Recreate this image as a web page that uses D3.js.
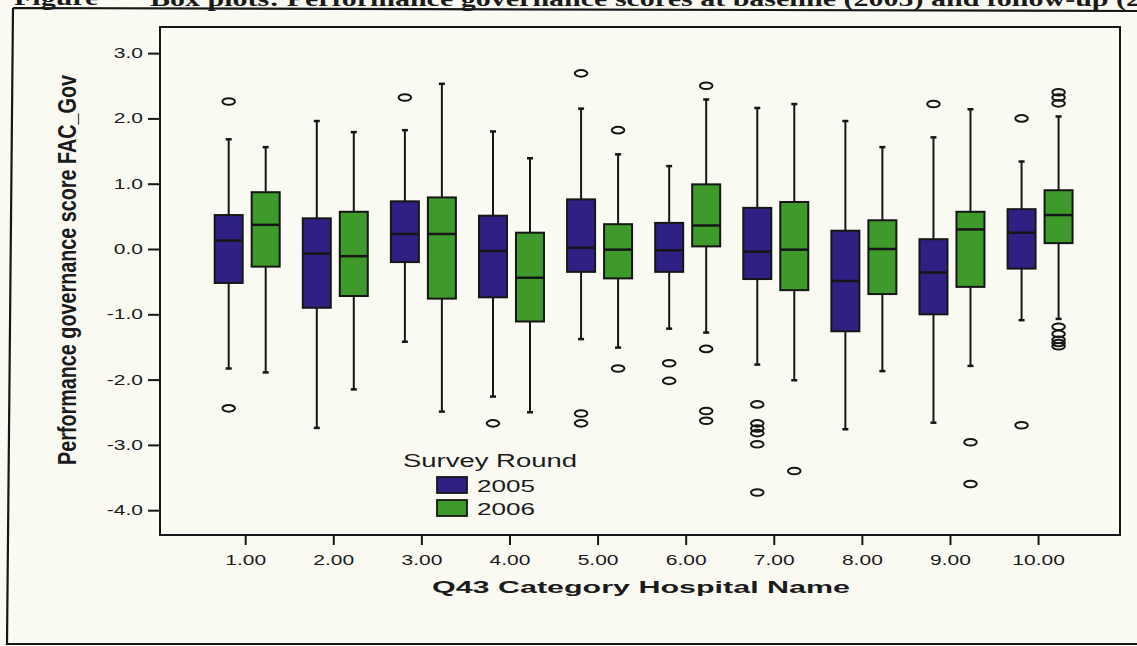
<!DOCTYPE html>
<html><head><meta charset="utf-8">
<script src="https://cdn.jsdelivr.net/npm/d3@7"></script>
<style>
html,body{margin:0;padding:0;background:#fafaf3;}
svg{display:block;}
text{font-family:"Liberation Sans",Arial,sans-serif;fill:#1b1b1b;}
</style></head>
<body>
<svg id="chart" width="1137" height="646"></svg>
<script>
// ---- data ----
const categories = [1,2,3,4,5,6,7,8,9,10];
const tickLabelsX = ["1.00","2.00","3.00","4.00","5.00","6.00","7.00","8.00","9.00","10.00"];
const tickValuesY = [-4,-3,-2,-1,0,1,2,3];
const seriesNames = ["2005","2006"];

// 2005
const lo2005  = [-1.83,-2.74,-1.42,-2.26,-1.38,-1.22,-1.77,-2.76,-2.66,-1.09];
const q1_2005 = [-0.52,-0.90,-0.20,-0.74,-0.35,-0.35,-0.46,-1.26,-1.00,-0.30];
const med2005 = [ 0.13,-0.07, 0.23,-0.03, 0.02,-0.02,-0.04,-0.49,-0.36, 0.25];
const q3_2005 = [ 0.52, 0.47, 0.73, 0.51, 0.76, 0.40, 0.63, 0.28, 0.15, 0.61];
const hi2005  = [ 1.68, 1.96, 1.82, 1.80, 2.15, 1.27, 2.16, 1.96, 1.71, 1.34];
const out2005 = [[2.26,-2.44],[],[2.32],[-2.67],[2.69,-2.52,-2.67],[-1.75,-2.02],
                 [-2.38,-2.67,-2.75,-2.82,-2.99,-3.73],[],[2.22],[2.00,-2.70]];
// 2006
const lo2006  = [-1.89,-2.15,-2.49,-2.50,-1.51,-1.28,-2.01,-1.87,-1.79,-1.07];
const q1_2006 = [-0.27,-0.72,-0.76,-1.11,-0.45, 0.04,-0.63,-0.69,-0.58, 0.09];
const med2006 = [ 0.37,-0.11, 0.23,-0.44,-0.01, 0.36,-0.01, 0.00, 0.30, 0.52];
const q3_2006 = [ 0.87, 0.57, 0.79, 0.25, 0.38, 0.99, 0.72, 0.44, 0.57, 0.90];
const hi2006  = [ 1.56, 1.79, 2.53, 1.39, 1.45, 2.29, 2.22, 1.56, 2.14, 2.03];
const out2006 = [[],[],[],[],[1.82,-1.83],[2.50,-1.53,-2.48,-2.63],[-3.40],[],[-2.96,-3.60],
                 [2.40,2.32,2.23,-1.19,-1.30,-1.39,-1.44,-1.49]];

const colors = {"2005":"#2e2183","2006":"#3e9a2b"};

// ---- build ----
const series = [
  {name:"2005", lo:lo2005, q1:q1_2005, med:med2005, q3:q3_2005, hi:hi2005, out:out2005, off:-18.5},
  {name:"2006", lo:lo2006, q1:q1_2006, med:med2006, q3:q3_2006, hi:hi2006, out:out2006, off:18.5}
];

const svg = d3.select("#chart");
const x = d3.scaleLinear().domain([0.033,10.93]).range([160,1120]);
const y = d3.scaleLinear().domain([-4.38,3.40]).range([535,27]);
const pairShift = 2, boxW = 28, capW = 6;

function stretch(sel,k){
  sel.each(function(){
    const w=this.getComputedTextLength();
    d3.select(this).attr("textLength",w*k).attr("lengthAdjust","spacingAndGlyphs");
  });
}

// header (clipped title) and outer border
const title = svg.append("g");
title.append("text").attr("x",14).attr("y",5)
  .style("font-family","'Liberation Serif',serif").style("font-weight","bold").style("font-size","20px")
  .text("Figure").call(stretch,1.5);
title.append("text").attr("x",150).attr("y",6)
  .style("font-family","'Liberation Serif',serif").style("font-weight","bold").style("font-size","20px")
  .text("Box plots: Performance governance scores at baseline (2005) and follow-up (2006)").call(stretch,1.5);
svg.append("path").attr("d","M13,8 L1140,11 M13,8 L7,644 L1140,644")
  .attr("fill","none").attr("stroke","#161616").attr("stroke-width",2.2);

// plot frame
svg.append("rect").attr("x",x.range()[0]).attr("y",y.range()[1])
  .attr("width",x.range()[1]-x.range()[0]).attr("height",y.range()[0]-y.range()[1])
  .attr("fill","none").attr("stroke","#161616").attr("stroke-width",2);

// y axis
const gy = svg.append("g").attr("transform",`translate(${x.range()[0]},0)`)
  .call(d3.axisLeft(y).tickValues(tickValuesY).tickFormat(d=>d.toFixed(1)).tickSize(12).tickPadding(5));
gy.select(".domain").remove();
gy.selectAll(".tick line").attr("stroke","#161616").attr("stroke-width",2);
gy.selectAll(".tick text").style("font-size","14px").style("font-family","'Liberation Sans',Arial,sans-serif")
  .attr("fill","#222").call(stretch,1.5);

// x axis
const gx = svg.append("g").attr("transform",`translate(0,${y.range()[0]})`)
  .call(d3.axisBottom(x).tickValues(categories).tickFormat((d,i)=>tickLabelsX[i]).tickSize(10));
gx.select(".domain").remove();
gx.selectAll(".tick line").attr("stroke","#161616").attr("stroke-width",2);
gx.selectAll(".tick text").attr("y",30).attr("dy",0).style("font-size","14px")
  .style("font-family","'Liberation Sans',Arial,sans-serif").attr("fill","#222").call(stretch,1.5);

// axis titles
svg.append("text").attr("transform","translate(76,270) rotate(-90) scale(1,1.4)")
  .attr("text-anchor","middle").style("font-size","19px").style("font-weight","bold")
  .text("Performance governance score FAC_Gov")
  .attr("textLength",390).attr("lengthAdjust","spacingAndGlyphs");
svg.append("text").attr("x",641).attr("y",593).attr("text-anchor","middle")
  .style("font-size","17px").style("font-weight","bold")
  .text("Q43 Category Hospital Name")
  .attr("textLength",418).attr("lengthAdjust","spacingAndGlyphs");

// boxes
series.forEach(s=>{
  const g = svg.append("g");
  categories.forEach((c,i)=>{
    const cx = x(c)+pairShift+s.off;
    // whiskers
    g.append("line").attr("x1",cx).attr("x2",cx).attr("y1",y(s.hi[i])).attr("y2",y(s.q3[i]))
      .attr("stroke","#161616").attr("stroke-width",2);
    g.append("line").attr("x1",cx).attr("x2",cx).attr("y1",y(s.q1[i])).attr("y2",y(s.lo[i]))
      .attr("stroke","#161616").attr("stroke-width",2);
    [s.hi[i],s.lo[i]].forEach(v=>{
      g.append("line").attr("x1",cx-capW/2).attr("x2",cx+capW/2).attr("y1",y(v)).attr("y2",y(v))
        .attr("stroke","#161616").attr("stroke-width",2.5);
    });
    g.append("rect").attr("x",cx-boxW/2).attr("width",boxW)
      .attr("y",y(s.q3[i])).attr("height",y(s.q1[i])-y(s.q3[i]))
      .attr("fill",colors[s.name]).attr("stroke","#161616").attr("stroke-width",2);
    g.append("line").attr("x1",cx-boxW/2).attr("x2",cx+boxW/2).attr("y1",y(s.med[i])).attr("y2",y(s.med[i]))
      .attr("stroke","#161616").attr("stroke-width",2.5);
    s.out[i].forEach(v=>{
      g.append("ellipse").attr("cx",cx).attr("cy",y(v)).attr("rx",6.3).attr("ry",3.3)
        .attr("fill","none").attr("stroke","#161616").attr("stroke-width",2);
    });
  });
});

// legend
const lg = svg.append("g");
lg.append("text").attr("x",403).attr("y",467).style("font-size","18px").text("Survey Round")
  .attr("textLength",174).attr("lengthAdjust","spacingAndGlyphs");
seriesNames.forEach((n,i)=>{
  lg.append("rect").attr("x",437).attr("y",477+i*23).attr("width",30).attr("height",16)
    .attr("fill",colors[n]).attr("stroke","#161616").attr("stroke-width",1.8);
  lg.append("text").attr("x",477).attr("y",492+i*23).style("font-size","17px").text(n)
    .attr("textLength",58).attr("lengthAdjust","spacingAndGlyphs");
});
</script>
</body></html>
